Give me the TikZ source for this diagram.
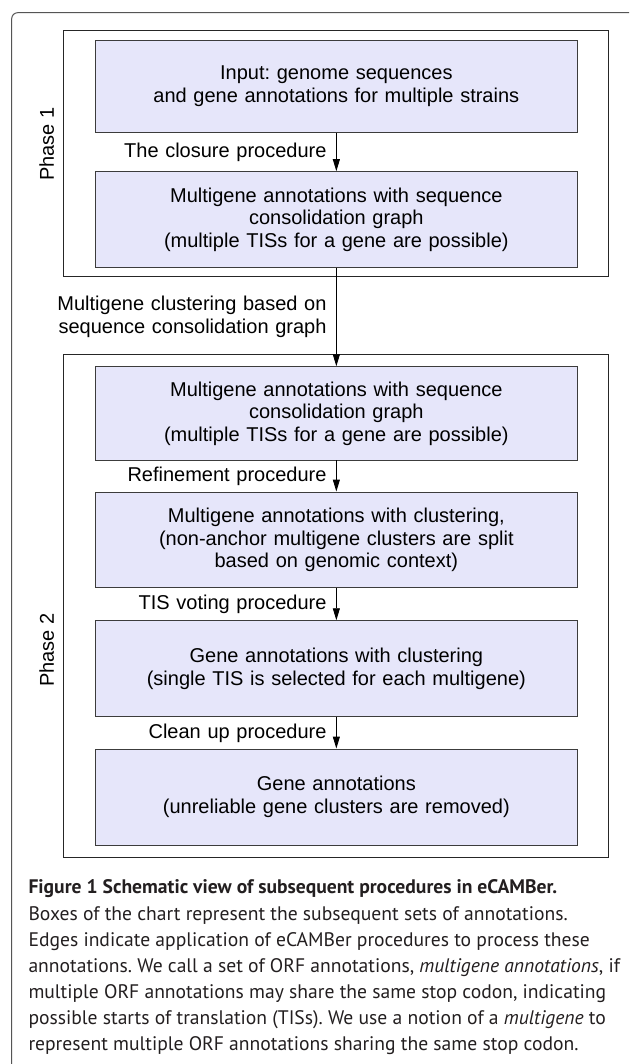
\documentclass[tikz,border=0pt]{standalone}
\usepackage{fontspec}
\setmainfont{Liberation Sans}
\newfontfamily\capfont{PT Sans}
\usetikzlibrary{arrows.meta}
\frenchspacing

\definecolor{boxfill}{RGB}{230,230,250}
\definecolor{boxline}{RGB}{60,60,60}
\definecolor{frameline}{RGB}{85,85,85}
\definecolor{captext}{RGB}{35,31,32}

\begin{document}
\begin{tikzpicture}[x=1pt,y=-1pt,
  stagebox/.style={draw=boxline, line width=0.9pt, fill=boxfill,
    minimum width=481.3pt, minimum height=95.7pt, inner sep=0pt,
    text width=481.3pt, align=center, font=\fontsize{20}{22.5}\selectfont},
  phasebox/.style={draw=black!85, line width=0.9pt, minimum width=545pt, inner sep=0pt},
  flow/.style={-{Triangle[length=12pt,width=7pt]}, line width=0.9pt},
  steplabel/.style={left, inner sep=0pt, xshift=-9.4pt, text width=300pt, align=right,
    font=\fontsize{20}{22.5}\selectfont},
  phaselabel/.style={rotate=90, inner sep=0pt, font=\fontsize{20}{22.5}\selectfont},
  capline/.style={anchor=base west, inner sep=0pt, text=captext,
    font=\capfont\fontsize{19.6}{26}\selectfont}]

\useasboundingbox[fill=white] (0,0) rectangle (629,1064);

% outer figure frame, open on the right and at the bottom
\draw[frameline, line width=1pt, rounded corners=6pt]
  (11.7,1064) -- (11.7,12.7) -- (629,12.7);

% phase frames
\node[phasebox, minimum height=246pt] (phase1) at (335.8,153.7) {};
\node[phasebox, minimum height=503.3pt] (phase2) at (335.8,605.65) {};
\node[phaselabel] (phase1label) at (46.7,144) {Phase 1};
\node[phaselabel] (phase2label) at (46.7,650) {Phase 2};

% annotation sets
\node[stagebox, minimum height=92.7pt] (input) at (336.35,86.35)
  {Input: genome sequences\\and gene annotations for multiple strains};
\node[stagebox] (multi1) at (336.35,219.5)
  {Multigene annotations with sequence\\consolidation graph\\(multiple TISs for a gene are possible)};
\node[stagebox, minimum height=93.3pt] (multi2) at (336.35,413.35)
  {Multigene annotations with sequence\\consolidation graph\\(multiple TISs for a gene are possible)};
\node[stagebox] (refined) at (336.35,539.85)
  {Multigene annotations with clustering,\\(non-anchor multigene clusters are split\\based on genomic context)};
\node[stagebox, minimum height=96pt] (voted) at (336.35,668.7)
  {Gene annotations with clustering\\(single TIS is selected for each multigene)};
\node[stagebox, minimum height=96pt] (final) at (336.35,797)
  {Gene annotations\\(unreliable gene clusters are removed)};

% procedures
\draw[flow] (input) -- node[steplabel] {The closure procedure} (multi1);
\draw[flow] (multi1) -- node[steplabel]
  {Multigene clustering based on\\sequence consolidation graph} (multi2);
\draw[flow] (multi2) -- node[steplabel] {Refinement procedure} (refined);
\draw[flow] (refined) -- node[steplabel] {TIS voting procedure} (voted);
\draw[flow] (voted) -- node[steplabel] {Clean up procedure} (final);

% caption, one node per line
\node[capline] (cap1) at (28.3,893)
  {\textbf{Figure 1 Schematic view of subsequent procedures in eCAMBer.}};
\node[capline] (cap2) at (28.3,920)
  {Boxes of the chart represent the subsequent sets of annotations.};
\node[capline] (cap3) at (28.3,946)
  {Edges indicate application of eCAMBer procedures to process these};
\node[capline] (cap4) at (28.3,972)
  {annotations. We call a set of ORF annotations, \emph{multigene annotations}, if};
\node[capline] (cap5) at (28.3,998)
  {multiple ORF annotations may share the same stop codon, indicating};
\node[capline] (cap6) at (28.3,1024)
  {possible starts of translation (TISs). We use a notion of a \emph{multigene} to};
\node[capline] (cap7) at (28.3,1050)
  {represent multiple ORF annotations sharing the same stop codon.};
\end{tikzpicture}
\end{document}
